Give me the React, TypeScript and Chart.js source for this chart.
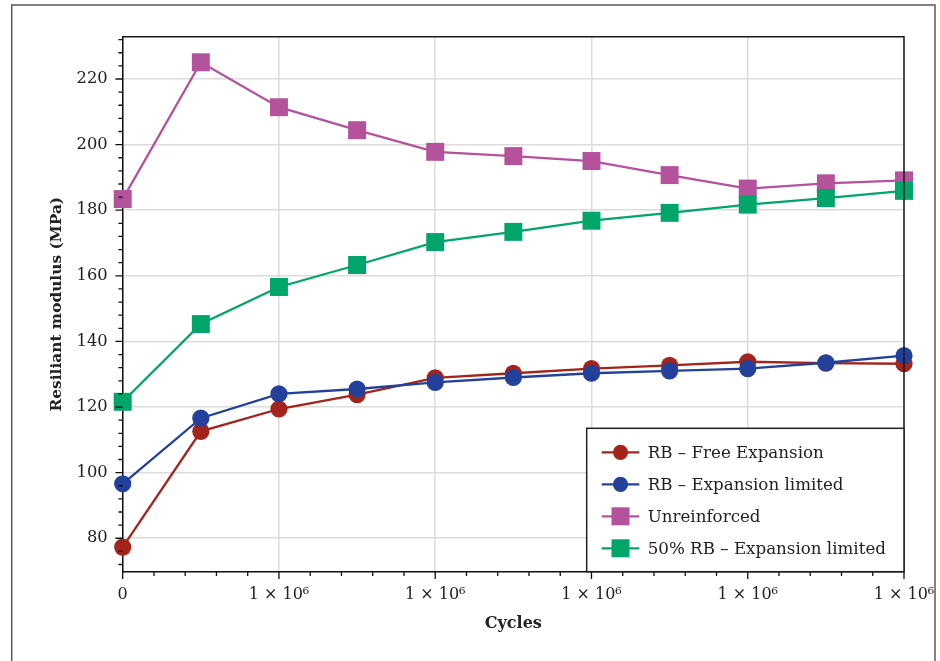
import React, { useEffect, useRef } from 'react';
import { Chart, registerables } from 'chart.js';

Chart.register(...registerables);

// Load cycles (x) and resilient modulus in MPa (y) for each test series
const cycles = [0, 500000, 1000000, 1500000, 2000000, 2500000, 3000000, 3500000, 4000000, 4500000, 5000000];
const rbFreeExpansion = [77.3, 112.6, 119.4, 123.8, 128.9, 130.3, 131.7, 132.7, 133.8, 133.4, 133.2];
const rbExpansionLimited = [96.6, 116.6, 124.0, 125.5, 127.5, 129.0, 130.3, 131.0, 131.7, 133.5, 135.7];
const unreinforced = [183.4, 225.1, 211.4, 204.4, 197.8, 196.5, 195.0, 190.7, 186.6, 188.2, 189.1];
const rb50ExpansionLimited = [121.6, 145.3, 156.6, 163.3, 170.3, 173.4, 176.8, 179.2, 181.7, 183.7, 185.9];

const seriesNames = [
  'RB – Free Expansion',
  'RB – Expansion limited',
  'Unreinforced',
  '50% RB – Expansion limited',
];

// Axis ticks
const xMajorTicks = [0, 1000000, 2000000, 3000000, 4000000, 5000000];
const xTickLabels = ['0', '1 × 10⁶', '1 × 10⁶', '1 × 10⁶', '1 × 10⁶', '1 × 10⁶'];
const yMajorTicks = [80, 100, 120, 140, 160, 180, 200, 220];
const xMinorStep = 200000;
const xMajorStep = 1000000;
const yMinorStart = 72;
const yMinorStep = 4;
const yMajorStep = 20;

const FONT = "'DejaVu Serif', 'Liberation Serif', serif";
const INK = '#222222';

const RED = '#a3241b';
const BLUE = '#23409a';
const MAGENTA = '#b5529c';
const GREEN = '#00a56a';

// White page with a thin grey frame around the whole figure
const figureFrame = {
  id: 'figureFrame',
  beforeDraw(chart: any) {
    const { ctx } = chart;
    ctx.save();
    ctx.fillStyle = '#ffffff';
    ctx.fillRect(0, 0, chart.width, chart.height);
    ctx.strokeStyle = '#5a5a5a';
    ctx.lineWidth = 1.5;
    ctx.strokeRect(11.7, 5, 923.3, 700);
    ctx.restore();
  },
};

// Outward major/minor tick marks and the closing top/right edges of the plot box
const axisTicks = {
  id: 'axisTicks',
  afterDatasetsDraw(chart: any) {
    const { ctx, chartArea: a, scales } = chart;
    const x = scales.x;
    const y = scales.y;
    ctx.save();
    ctx.strokeStyle = '#111111';
    ctx.lineWidth = 1.3;
    ctx.beginPath();
    const xMax = x.max;
    for (let i = 0; i * xMinorStep <= xMax + 1; i++) {
      const v = i * xMinorStep;
      const px = x.getPixelForValue(v);
      const major = v % xMajorStep === 0;
      ctx.moveTo(px, a.bottom);
      ctx.lineTo(px, a.bottom + (major ? 7.3 : 4.3));
    }
    for (let i = 0; yMinorStart + i * yMinorStep <= y.max; i++) {
      const v = yMinorStart + i * yMinorStep;
      const py = y.getPixelForValue(v);
      const major = v % yMajorStep === 0;
      ctx.moveTo(a.left, py);
      ctx.lineTo(a.left - (major ? 7.3 : 4.3), py);
    }
    ctx.stroke();

    ctx.strokeStyle = '#1a1a1a';
    ctx.lineWidth = 1.5;
    ctx.beginPath();
    ctx.moveTo(a.left, a.top);
    ctx.lineTo(a.right, a.top);
    ctx.lineTo(a.right, a.bottom);
    ctx.stroke();
    ctx.restore();
  },
};

// Boxed legend in the lower-right corner of the plot area
const insideLegend = {
  id: 'insideLegend',
  afterDatasetsDraw(chart: any) {
    const { ctx, chartArea: a } = chart;
    const boxW = 317.3;
    const boxH = 143.4;
    const left = a.right - boxW;
    const top = a.bottom - boxH;
    ctx.save();
    ctx.fillStyle = '#ffffff';
    ctx.fillRect(left, top, boxW, boxH);
    ctx.strokeStyle = '#222222';
    ctx.lineWidth = 1.5;
    ctx.strokeRect(left, top, boxW, boxH);
    ctx.font = `16.7px ${FONT}`;
    ctx.textBaseline = 'middle';
    ctx.textAlign = 'left';
    chart.data.datasets.forEach((ds: any, i: number) => {
      const cy = top + 24 + i * 32;
      const x0 = left + 15;
      const x1 = left + 52.6;
      const cx = (x0 + x1) / 2;
      ctx.strokeStyle = ds.borderColor;
      ctx.lineWidth = 2.3;
      ctx.beginPath();
      ctx.moveTo(x0, cy);
      ctx.lineTo(x1, cy);
      ctx.stroke();
      ctx.fillStyle = ds.backgroundColor;
      if (ds.pointStyle === 'rect') {
        ctx.fillRect(cx - 9, cy - 9, 18, 18);
      } else {
        ctx.beginPath();
        ctx.arc(cx, cy, 7.6, 0, Math.PI * 2);
        ctx.fill();
      }
      ctx.fillStyle = INK;
      ctx.fillText(ds.label, left + 61, cy + 1);
    });
    ctx.restore();
  },
};

function series(label: string, values: number[], color: string, style: string, order: number) {
  return {
    label,
    data: cycles.map((c, i) => ({ x: c, y: values[i] })),
    borderColor: color,
    backgroundColor: color,
    borderWidth: 2.3,
    pointStyle: style,
    pointRadius: style === 'rect' ? 12.7 : 8.6,
    pointBorderWidth: 0,
    pointBackgroundColor: color,
    pointBorderColor: color,
    tension: 0,
    clip: false,
    order,
  };
}

export default function App() {
  const canvasRef = useRef<HTMLCanvasElement | null>(null);

  useEffect(() => {
    const canvas = canvasRef.current;
    if (!canvas) return;
    const chart = new Chart(canvas, {
      type: 'line',
      data: {
        datasets: [
          series(seriesNames[0], rbFreeExpansion, RED, 'circle', 3),
          series(seriesNames[1], rbExpansionLimited, BLUE, 'circle', 2),
          series(seriesNames[2], unreinforced, MAGENTA, 'rect', 1),
          series(seriesNames[3], rb50ExpansionLimited, GREEN, 'rect', 0),
        ] as any,
      },
      options: {
        responsive: false,
        animation: false,
        devicePixelRatio: 1,
        layout: { padding: { left: 0, right: 36, top: 36.7, bottom: 0 } },
        plugins: {
          legend: { display: false },
          tooltip: { enabled: false },
        },
        scales: {
          x: {
            type: 'linear',
            min: 0,
            max: 5000000,
            afterBuildTicks: (scale: any) => {
              scale.ticks = xMajorTicks.map((v) => ({ value: v }));
            },
            afterFit: (scale: any) => {
              scale.height = 89.3;
            },
            ticks: {
              callback: (_v: any, i: number) => xTickLabels[i],
              font: { family: FONT, size: 16 },
              color: INK,
              padding: 4,
              maxRotation: 0,
              autoSkip: false,
            },
            grid: {
              color: '#dcdcdc',
              lineWidth: 1.5,
              drawTicks: true,
              tickLength: 10,
              tickColor: 'rgba(0,0,0,0)',
            },
            border: { display: true, color: '#111111', width: 1.5 },
            title: {
              display: true,
              text: 'Cycles',
              color: INK,
              font: { family: FONT, size: 16, weight: 'bold' },
              padding: { top: 0, bottom: 27.4 },
            },
          },
          y: {
            type: 'linear',
            min: 69.8,
            max: 232.9,
            afterBuildTicks: (scale: any) => {
              scale.ticks = yMajorTicks.map((v) => ({ value: v }));
            },
            afterFit: (scale: any) => {
              scale.width = 122.7;
            },
            ticks: {
              callback: (v: any) => String(v),
              font: { family: FONT, size: 16.3 },
              color: INK,
              padding: 15,
            },
            grid: { color: '#dcdcdc', lineWidth: 1.5, drawTicks: false },
            border: { display: true, color: '#111111', width: 1.5 },
            title: {
              display: true,
              text: 'Resiliant modulus (MPa)',
              color: INK,
              font: { family: FONT, size: 15.4, weight: 'bold' },
              padding: { top: 48, bottom: 0 },
            },
          },
        },
      } as any,
      plugins: [figureFrame, axisTicks, insideLegend],
    });
    return () => chart.destroy();
  }, []);

  return (
    <div style={{ position: 'absolute', left: 0, top: 0, width: 940, height: 661 }}>
      <canvas ref={canvasRef} width={940} height={661} style={{ display: 'block' }} />
    </div>
  );
}
